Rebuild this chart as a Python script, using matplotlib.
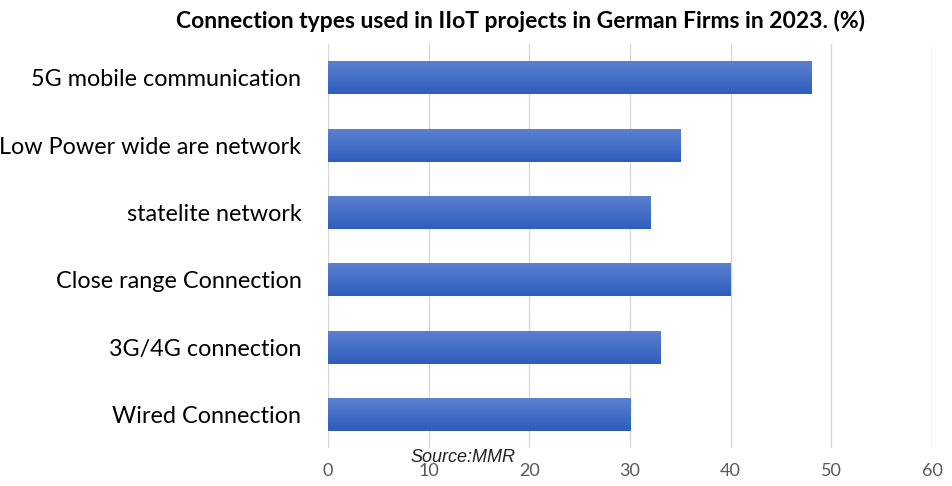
import matplotlib
matplotlib.use("Agg")
import matplotlib.pyplot as plt
import numpy as np
from matplotlib.colors import LinearSegmentedColormap

categories = ["5G mobile communication", "Low Power wide are network", "statelite network",
              "Close range Connection", "3G/4G connection", "Wired Connection"]
values = [48, 35, 32, 40, 33, 30]
xticks = [0, 10, 20, 30, 40, 50, 60]

plt.rcParams['font.family'] = ['Lato', 'DejaVu Sans']

fig = plt.figure(figsize=(9.53, 4.86), dpi=100)
ax = fig.add_axes([0.344, 0.078, 0.634, 0.831])

y = np.arange(len(categories))[::-1]
h = 0.49
bars = ax.barh(y, values, height=h, color="#4472C4", zorder=2)

grad = np.linspace(0, 1, 100).reshape(-1, 1)
cmap = LinearSegmentedColormap.from_list("g", ["#2F5DBD", "#5B80CF"])
for b in bars:
    x0, y0 = b.get_x(), b.get_y()
    w, hh = b.get_width(), b.get_height()
    im = ax.imshow(grad, extent=(x0, x0 + w, y0, y0 + hh), origin="lower",
                   cmap=cmap, aspect="auto", zorder=3)
    im.set_clip_path(b)

ax.set_xlim(0, 60)
ax.set_ylim(-0.5, len(categories) - 0.5)
ax.set_xticks(xticks)
ax.set_xticklabels([str(t) for t in xticks], color="#595959", fontsize=13)
ax.set_yticks(y)
ax.set_yticklabels(categories, fontsize=16.8, color="#000000")
ax.tick_params(axis="both", length=0)
ax.tick_params(axis="x", pad=11)
ax.tick_params(axis="y", pad=19)
ax.grid(axis="x", color="#D9D9D9", linewidth=1, zorder=0)
ax.set_axisbelow(True)
for s in ax.spines.values():
    s.set_visible(False)

fig.text(0.546, 0.957, "Connection types used in IIoT projects in German Firms in 2023. (%)",
         ha="center", va="center", fontsize=16.5, fontweight="bold")
fig.text(0.486, 0.058, "Source:MMR", ha="center", va="center", fontsize=13,
         style="italic", family=["Liberation Sans Narrow", "Liberation Sans", "DejaVu Sans"],
         color="#222222")

fig.savefig("out.png", dpi=100)
